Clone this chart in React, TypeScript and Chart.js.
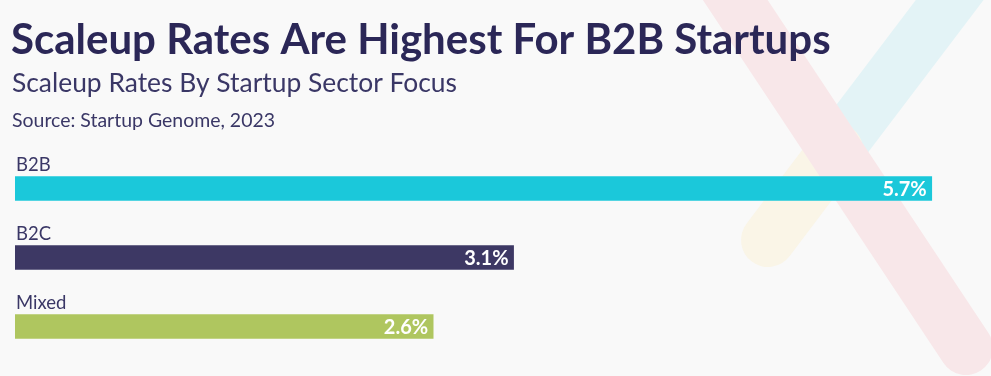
import React, { useEffect, useRef } from "react";
import { Chart, registerables } from "chart.js";

Chart.register(...registerables);

const categories = ["B2B", "B2C", "Mixed"];
const values = [5.7, 3.1, 2.6];
const valueLabels = ["5.7%", "3.1%", "2.6%"];
const barColors = ["#1bc8da", "#3d3864", "#afc65f"];
const titleText = "Scaleup Rates Are Highest For B2B Startups";
const subtitleText = "Scaleup Rates By Startup Sector Focus";
const sourceText = "Source: Startup Genome, 2023";
const xMax = 6;

const FONT = "Lato, 'Liberation Sans', sans-serif";
const NAVY = "#2b2757";
const TEXT = "#3a3766";

const decorPlugin = {
  id: "decor",
  beforeDraw(chart: any) {
    const ctx = chart.ctx as CanvasRenderingContext2D;
    const w = chart.width;
    const h = chart.height;
    ctx.save();
    ctx.fillStyle = "#f9f9f9";
    ctx.fillRect(0, 0, w, h);
    ctx.lineWidth = 54;
    ctx.lineCap = "butt";
    ctx.strokeStyle = "#e3f3f6";
    ctx.beginPath();
    ctx.moveTo(980, -40);
    ctx.lineTo(836, 150);
    ctx.stroke();
    ctx.lineCap = "round";
    ctx.strokeStyle = "#faf5e7";
    ctx.beginPath();
    ctx.moveTo(836, 150);
    ctx.lineTo(768, 240);
    ctx.stroke();
    ctx.strokeStyle = "#f8e7e9";
    ctx.beginPath();
    ctx.moveTo(722, -20);
    ctx.lineTo(966, 348);
    ctx.stroke();
    ctx.restore();
  },
};

const textPlugin = {
  id: "texts",
  afterDraw(chart: any) {
    const ctx = chart.ctx as CanvasRenderingContext2D;
    ctx.save();
    ctx.textAlign = "left";
    ctx.textBaseline = "alphabetic";
    ctx.fillStyle = NAVY;
    ctx.font = `bold 42px ${FONT}`;
    ctx.fillText(titleText, 11, 54, 827);
    ctx.fillStyle = TEXT;
    ctx.font = `26.5px ${FONT}`;
    ctx.fillText(subtitleText, 12, 92, 445);
    ctx.font = `19.5px ${FONT}`;
    ctx.fillText(sourceText, 12, 127, 263);

    const meta = chart.getDatasetMeta(0);
    const xScale = chart.scales.x;
    meta.data.forEach((bar: any, i: number) => {
      const top = bar.y - bar.height / 2;
      ctx.fillStyle = TEXT;
      ctx.font = `18.5px ${FONT}`;
      ctx.textAlign = "left";
      ctx.textBaseline = "alphabetic";
      ctx.fillText(categories[i], xScale.getPixelForValue(0) + 1, top - 6);
      ctx.fillStyle = "#ffffff";
      ctx.font = `bold 20px ${FONT}`;
      ctx.textAlign = "right";
      ctx.textBaseline = "middle";
      ctx.fillText(valueLabels[i], bar.x - 5, bar.y + 1);
    });
    ctx.restore();
  },
};

export default function App() {
  const ref = useRef<HTMLCanvasElement | null>(null);
  useEffect(() => {
    if (!ref.current) return;
    const chart = new Chart(ref.current, {
      type: "bar",
      data: {
        labels: categories,
        datasets: [
          {
            data: values,
            backgroundColor: barColors,
            borderWidth: 0,
            barThickness: 24,
          },
        ],
      },
      options: {
        indexAxis: "y",
        animation: false,
        responsive: false,
        maintainAspectRatio: false,
        layout: { padding: { left: 15, right: 11, top: 154, bottom: 15 } },
        scales: {
          x: { display: false, min: 0, max: xMax },
          y: { display: false, offset: true },
        },
        plugins: {
          legend: { display: false },
          tooltip: { enabled: false },
          title: { display: false },
        },
      },
      plugins: [decorPlugin, textPlugin],
    });
    return () => chart.destroy();
  }, []);
  return (
    <div style={{ position: "fixed", left: 0, top: 0, width: 991, height: 376 }}>
      <canvas ref={ref} width={991} height={376} style={{ width: 991, height: 376, display: "block" }} />
    </div>
  );
}
